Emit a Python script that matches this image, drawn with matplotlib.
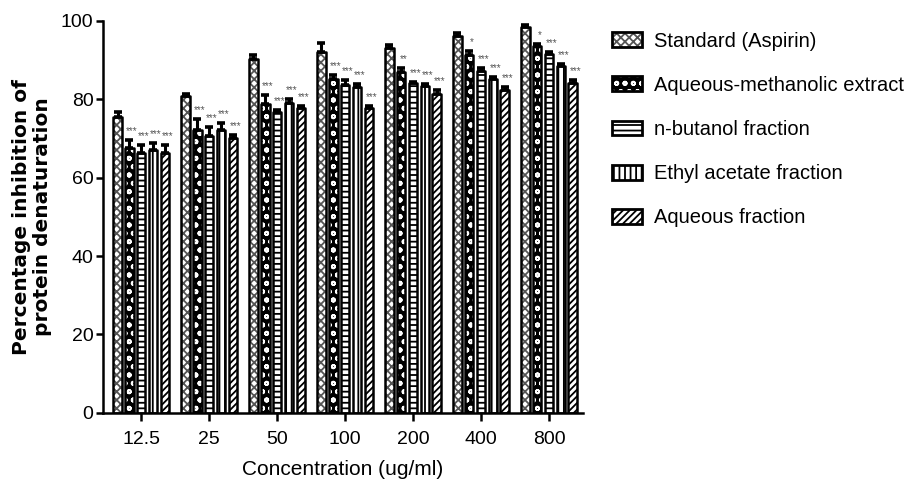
import matplotlib
matplotlib.use("Agg")
import matplotlib.pyplot as plt
import numpy as np
from matplotlib.patches import Rectangle
from matplotlib.legend_handler import HandlerTuple

plt.rcParams['font.family'] = ['Liberation Sans', 'DejaVu Sans']
plt.rcParams['hatch.linewidth'] = 1.3

categories = ['12.5', '25', '50', '100', '200', '400', '800']
series_names = ['Standard (Aspirin)', 'Aqueous-methanolic extract', 'n-butanol fraction',
                'Ethyl acetate fraction', 'Aqueous fraction']

standard = [75.5, 80.9, 90.4, 92.1, 93.1, 96.2, 98.4]
standard_err = [1.2, 0.5, 0.8, 2.3, 0.8, 0.8, 0.6]
aq_meth = [67.5, 72.2, 78.8, 85.1, 87.0, 91.3, 93.5]
aq_meth_err = [2.2, 2.8, 2.2, 1.2, 1.0, 1.1, 0.6]
n_butanol = [66.3, 70.7, 76.9, 83.7, 84.1, 87.3, 91.6]
n_butanol_err = [2.0, 2.3, 0.4, 1.3, 0.4, 0.6, 0.6]
ethyl_acetate = [67.1, 72.2, 79.0, 83.1, 83.4, 85.1, 88.5]
ethyl_acetate_err = [1.8, 1.8, 1.0, 0.8, 0.6, 0.7, 0.5]
aqueous = [66.4, 70.1, 77.7, 77.7, 81.4, 82.4, 84.3]
aqueous_err = [2.0, 0.7, 0.7, 0.6, 0.9, 0.7, 0.7]

sig_aq_meth = ['***', '***', '***', '***', '**', '*', '*']
sig_n_butanol = ['***'] * 7
sig_ethyl_acetate = ['***'] * 7
sig_aqueous = ['***'] * 7

values = [standard, aq_meth, n_butanol, ethyl_acetate, aqueous]
errors = [standard_err, aq_meth_err, n_butanol_err, ethyl_acetate_err, aqueous_err]
sigs = [None, sig_aq_meth, sig_n_butanol, sig_ethyl_acetate, sig_aqueous]

# style: (face, hatch, hatch colour)
styles = [
    ('white', 'xxxx', '#555555'),
    ('black', 'oo', 'white'),
    ('white', '---', 'black'),
    ('white', '|||', 'black'),
    ('white', '/////', 'black'),
]

fig = plt.figure(figsize=(9.21, 4.88), dpi=100)
ax = fig.add_axes([0.112, 0.154, 0.521, 0.803])

x = np.arange(len(categories))
pitch = 0.174
width = 0.125
lw = 1.8

handles = []
for i, (vals, errs, (fc, hatch, hc)) in enumerate(zip(values, errors, styles)):
    pos = x + (i - 2) * pitch
    ax.bar(pos, vals, width=width, color=fc, edgecolor=hc, hatch=hatch, linewidth=0, zorder=2)
    ax.bar(pos, vals, width=width, fill=False, edgecolor='black', linewidth=lw,
           joinstyle='round', zorder=3)
    ax.errorbar(pos, vals, yerr=[np.zeros(len(vals)), errs], fmt='none', ecolor='black',
                elinewidth=2.2, capsize=3.2, capthick=2.6, zorder=4, clip_on=False)
    if sigs[i] is not None:
        for p, v, e, s in zip(pos, vals, errs, sigs[i]):
            ax.text(p + 0.04, v + e + 1.0, s, ha='center', va='bottom', fontsize=7,
                    color='#555555', zorder=5)
    h1 = Rectangle((0, 0), 1, 1, facecolor=fc, edgecolor=hc, hatch=hatch, linewidth=0)
    h2 = Rectangle((0, 0), 1, 1, fill=False, edgecolor='black', linewidth=2.0)
    handles.append((h1, h2))

ax.set_xlim(-0.56, 6.5)
ax.set_ylim(0, 100)
ax.set_xticks(x)
ax.set_xticklabels(categories)
ax.set_yticks([0, 20, 40, 60, 80, 100])

for side in ['top', 'right']:
    ax.spines[side].set_visible(False)
for side in ['left', 'bottom']:
    ax.spines[side].set_linewidth(1.8)

ax.tick_params(axis='both', labelsize=14, width=1.8, length=5, direction='out')
ax.tick_params(axis='x', length=6, pad=7)
ax.tick_params(axis='y', pad=2)

ax.set_xlabel('Concentration (ug/ml)', fontsize=15, labelpad=9)
ax.set_ylabel('Percentage inhibition of\nprotein denaturation', family=['DejaVu Sans'],
              fontsize=14.5, fontweight='bold', labelpad=6, linespacing=1.15)

ax.legend(handles, series_names, handler_map={tuple: HandlerTuple(ndivide=1, pad=0)},
          loc='upper left', bbox_to_anchor=(0.664, 0.935), bbox_transform=fig.transFigure,
          frameon=False, fontsize=14.5, handlelength=1.5, handleheight=0.75,
          handletextpad=0.62, labelspacing=1.25, borderpad=0, borderaxespad=0)

fig.savefig('out.png', dpi=100)
